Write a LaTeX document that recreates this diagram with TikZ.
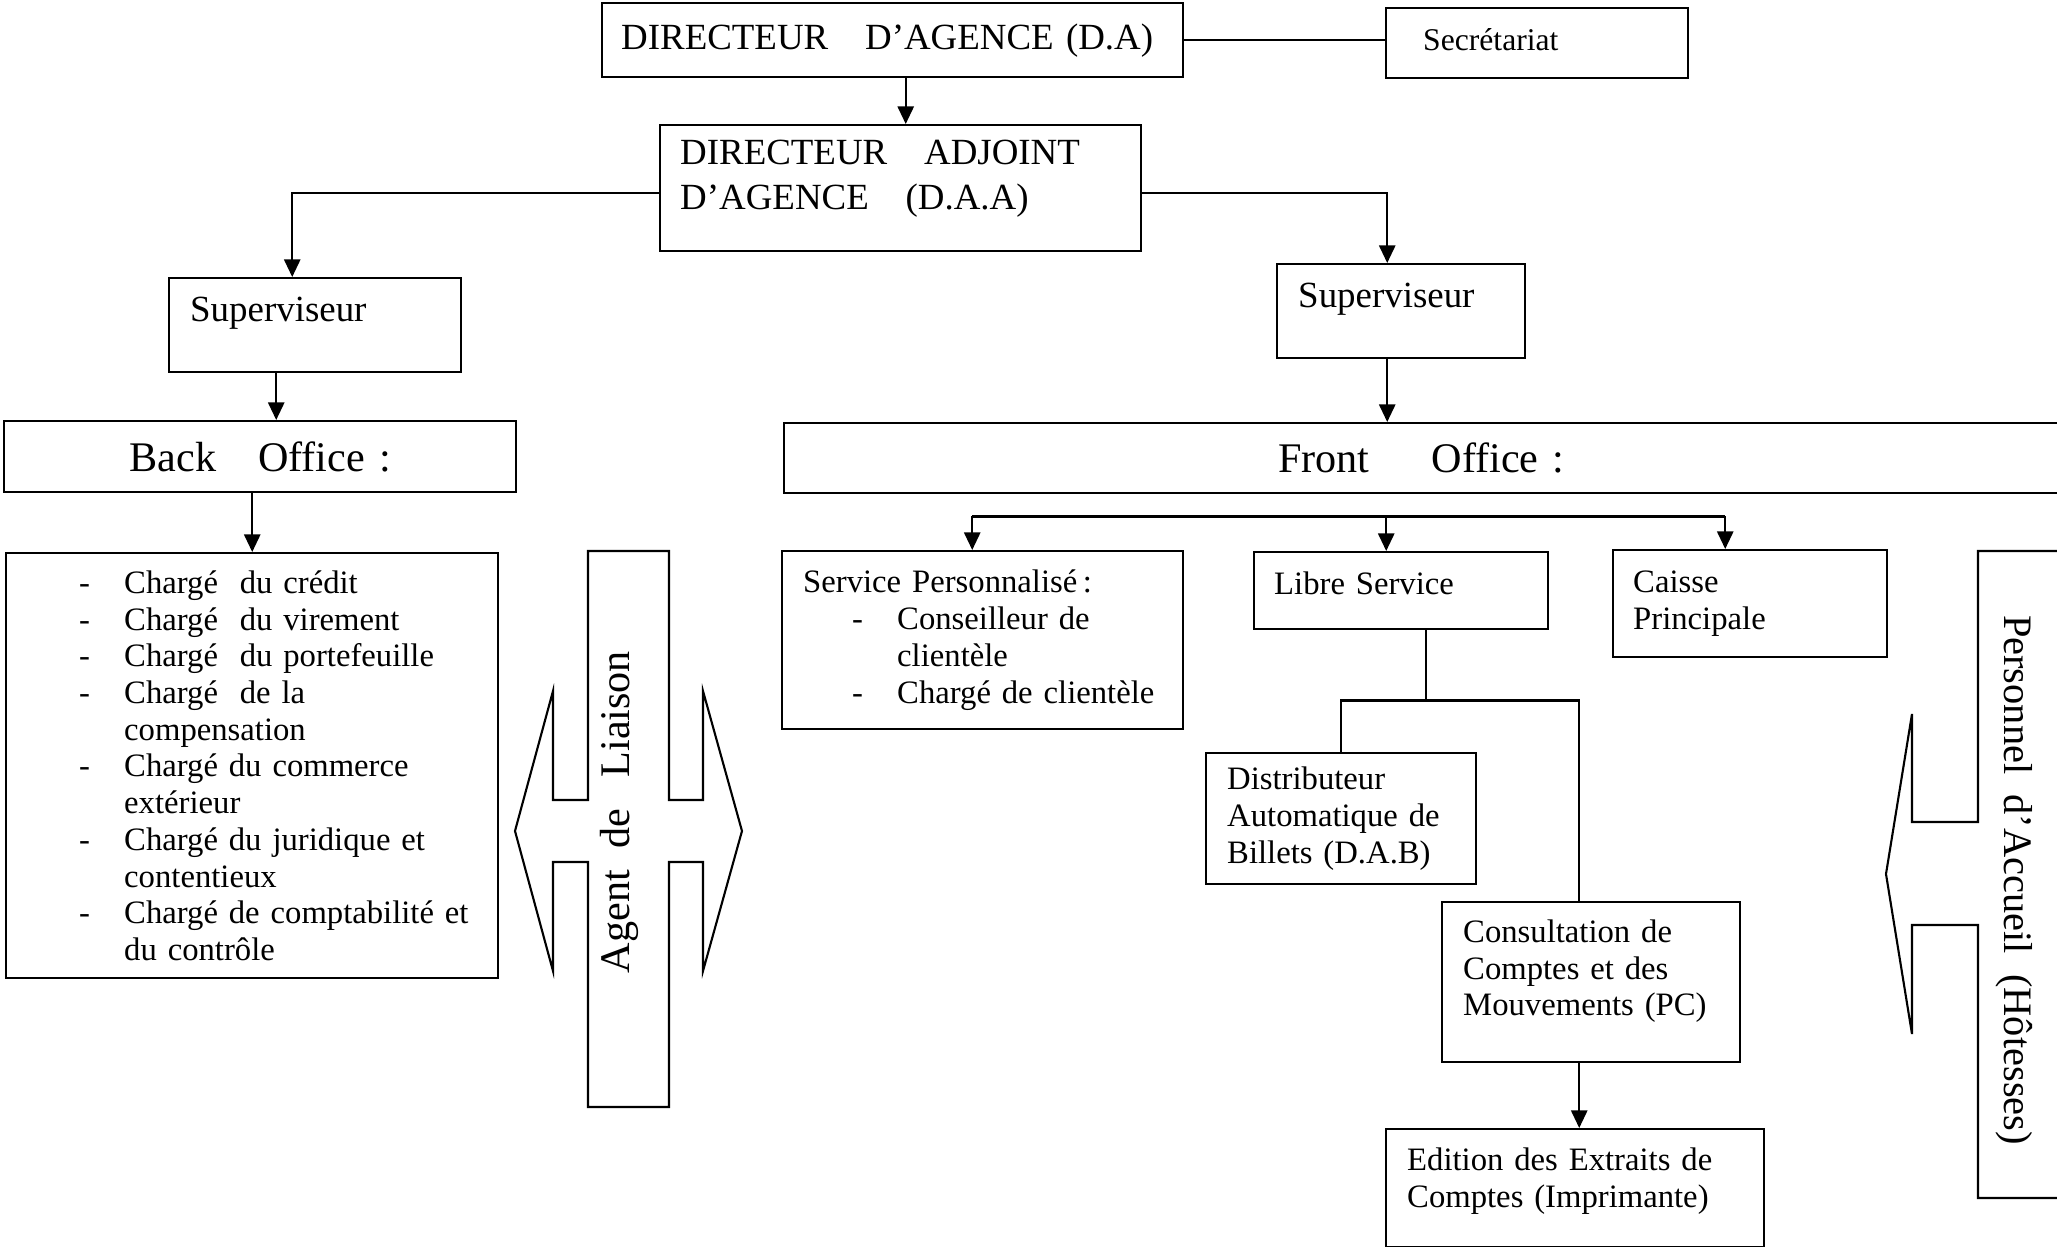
\documentclass[tikz,border=0pt]{standalone}
\usepackage{fontspec}
\setmainfont{Liberation Serif}
\usepackage{tikz}
\usetikzlibrary{arrows.meta}

\newcommand{\tiret}[1]{\hspace*{#1}\makebox[0.45cm][l]{-}}
\newcommand{\bas}[1]{\rule[-#1]{0pt}{#1}}
\newcommand{\petitfont}{\fontsize{9.3}{10.45}\selectfont\spaceskip=0.17cm\relax\hyphenpenalty=10000\relax}
\newcommand{\moyenfont}{\fontsize{10.5}{12.8}\selectfont\spaceskip=0.10cm\relax\hyphenpenalty=10000\relax}

\tikzset{
  box/.style={draw, rectangle, anchor=north west, align=left, inner ysep=0pt, line width=0.7pt},
  petit/.style={font={\petitfont}},
  moyen/.style={font={\moyenfont}},
  grand/.style={font={\fontsize{12}{14}\selectfont}},
}

\begin{document}
\begin{tikzpicture}[>={Triangle[length=5pt,width=4.6pt]}, line width=0.6pt]
\useasboundingbox (0,0) rectangle (20.57,-12.47);

% direction
\node[box,moyen,text width=5.43cm,inner xsep=0.19cm,minimum height=0.74cm] (da) at (6.01,-0.02) {DIRECTEUR~~~D’AGENCE~(D.A)};
\node[box,font={\fontsize{9}{11}\selectfont},text width=2.28cm,inner xsep=0.37cm,minimum height=0.70cm] (sec) at (13.85,-0.07) {Secrétariat\bas{0.08cm}};
\node[box,moyen,text width=4.41cm,inner xsep=0.20cm,minimum height=1.26cm] (daa) at (6.59,-1.24) {DIRECTEUR~~~ADJOINT\\D’AGENCE~~~(D.A.A)\bas{0.26cm}};
\node[box,moyen,text width=2.50cm,inner xsep=0.21cm,minimum height=0.94cm] (svl) at (1.68,-2.77) {Superviseur\bas{0.32cm}};
\node[box,moyen,text width=2.06cm,inner xsep=0.21cm,minimum height=0.94cm] (svr) at (12.76,-2.63) {Superviseur\bas{0.32cm}};
\node[box,grand,align=center,text width=5.12cm,inner xsep=0pt,minimum height=0.71cm] (bo) at (0.03,-4.20) {Back\hspace{0.42cm}Office :};
\node[box,grand,align=center,text width=12.90cm,inner xsep=0pt,minimum height=0.70cm] (fo) at (7.83,-4.22) {\hspace*{-0.16cm}Front\hspace{0.62cm}Office :};

% back office
\node[box,petit,text width=4.92cm,inner xsep=0pt,minimum height=4.25cm] (list) at (0.05,-5.52) {%
\tiret{0.73cm}Chargé~~du~crédit\\
\tiret{0.73cm}Chargé~~du~virement\\
\tiret{0.73cm}Chargé~~du~portefeuille\\
\tiret{0.73cm}Chargé~~de~la\\
\hspace*{1.18cm}compensation\\
\tiret{0.73cm}Chargé~du~commerce\\
\hspace*{1.18cm}extérieur\\
\tiret{0.73cm}Chargé~du~juridique~et\\
\hspace*{1.18cm}contentieux\\
\tiret{0.73cm}Chargé~de~comptabilité~et\\
\hspace*{1.18cm}du~contrôle};

% front office
\node[box,petit,text width=3.59cm,inner xsep=0.21cm,minimum height=1.78cm] (sp) at (7.81,-5.50) {%
Service~Personnalisé\,:\\
\tiret{0.49cm}Conseilleur~de\\
\hspace*{0.94cm}clientèle\\
\tiret{0.49cm}Chargé~de~clientèle};
\node[box,petit,text width=2.54cm,inner xsep=0.20cm,minimum height=0.77cm] (ls) at (12.53,-5.51) {Libre~Service\bas{0.16cm}};
\node[box,petit,text width=2.34cm,inner xsep=0.20cm,minimum height=1.07cm] (cp) at (16.12,-5.49) {Caisse\\Principale};
\node[box,petit,text width=2.28cm,inner xsep=0.21cm,minimum height=1.31cm] (dab) at (12.05,-7.52) {Distributeur\\Automatique~de\\Billets~(D.A.B)};
\node[box,petit,text width=2.56cm,inner xsep=0.21cm,minimum height=1.60cm] (pc) at (14.41,-9.01) {Consultation~de\\Comptes~et~des\\Mouvements~(PC)\bas{0.29cm}};
\node[box,petit,text width=3.36cm,inner xsep=0.21cm,minimum height=1.18cm] (ed) at (13.85,-11.28) {Edition~des~Extraits~de\\Comptes~(Imprimante)\bas{0.21cm}};

% agent de liaison
\draw (5.88,-5.51) -- (6.69,-5.51) -- (6.69,-8.00) -- (7.03,-8.00) -- (7.03,-6.91) -- (7.42,-8.31)
  -- (7.03,-9.71) -- (7.03,-8.62) -- (6.69,-8.62) -- (6.69,-11.07) -- (5.88,-11.07) -- (5.88,-8.62)
  -- (5.53,-8.62) -- (5.53,-9.71) -- (5.15,-8.31) -- (5.53,-6.91) -- (5.53,-8.00) -- (5.88,-8.00) -- cycle;
\node[grand,rotate=90] (agent) at (6.19,-8.12) {Agent~~de~~~Liaison};

% personnel d'accueil
\draw (20.65,-5.51) -- (19.78,-5.51) -- (19.78,-8.22) -- (19.12,-8.22) -- (19.12,-7.14) -- (18.86,-8.74)
  -- (19.12,-10.34) -- (19.12,-9.25) -- (19.78,-9.25) -- (19.78,-11.98) -- (20.65,-11.98);
\node[font={\fontsize{11.5}{14}\selectfont},rotate=-90] (accueil) at (20.14,-8.80) {Personnel~~d’Accueil~~(Hôtesses)};

% liaisons
\draw[->] ([xshift=0.05cm]daa.north |- da.south) -- ([xshift=0.05cm]daa.north);
\draw (da.east) -- (sec.west |- da.east);
\draw[->] ([yshift=-0.05cm]daa.west) -| ([xshift=-0.23cm]svl.north);
\draw[->] ([yshift=-0.05cm]daa.east) -| ([xshift=-0.14cm]svr.north);
\draw[->] ([xshift=-0.39cm]svl.south) -- ([xshift=-0.39cm]svl.south |- bo.north);
\draw[->] ([xshift=-0.14cm]svr.south) -- ([xshift=-0.14cm]svr.south |- fo.north);
\draw[->] (list.north |- bo.south) -- (list.north);

\coordinate (bar) at ([yshift=-0.22cm]fo.south);
\draw ([xshift=-0.105cm]sp.north |- bar) -- ([xshift=-0.25cm]cp.north |- bar);
\foreach \n/\dx in {sp/-0.105, ls/-0.15, cp/-0.25}
  \draw[->] ([xshift=\dx cm]\n.north |- bar) -- ([xshift=\dx cm]\n.north);

\coordinate (fork) at ([xshift=0.25cm,yshift=-0.70cm]ls.south);
\coordinate (pcin) at ([xshift=-0.12cm]pc.north);
\draw ([xshift=0.25cm]ls.south) -- (fork);
\draw (dab.north) |- (pcin |- fork) -- (pcin);
\draw[->] (pcin |- pc.south) -- (pcin |- ed.north);

\end{tikzpicture}
\end{document}
